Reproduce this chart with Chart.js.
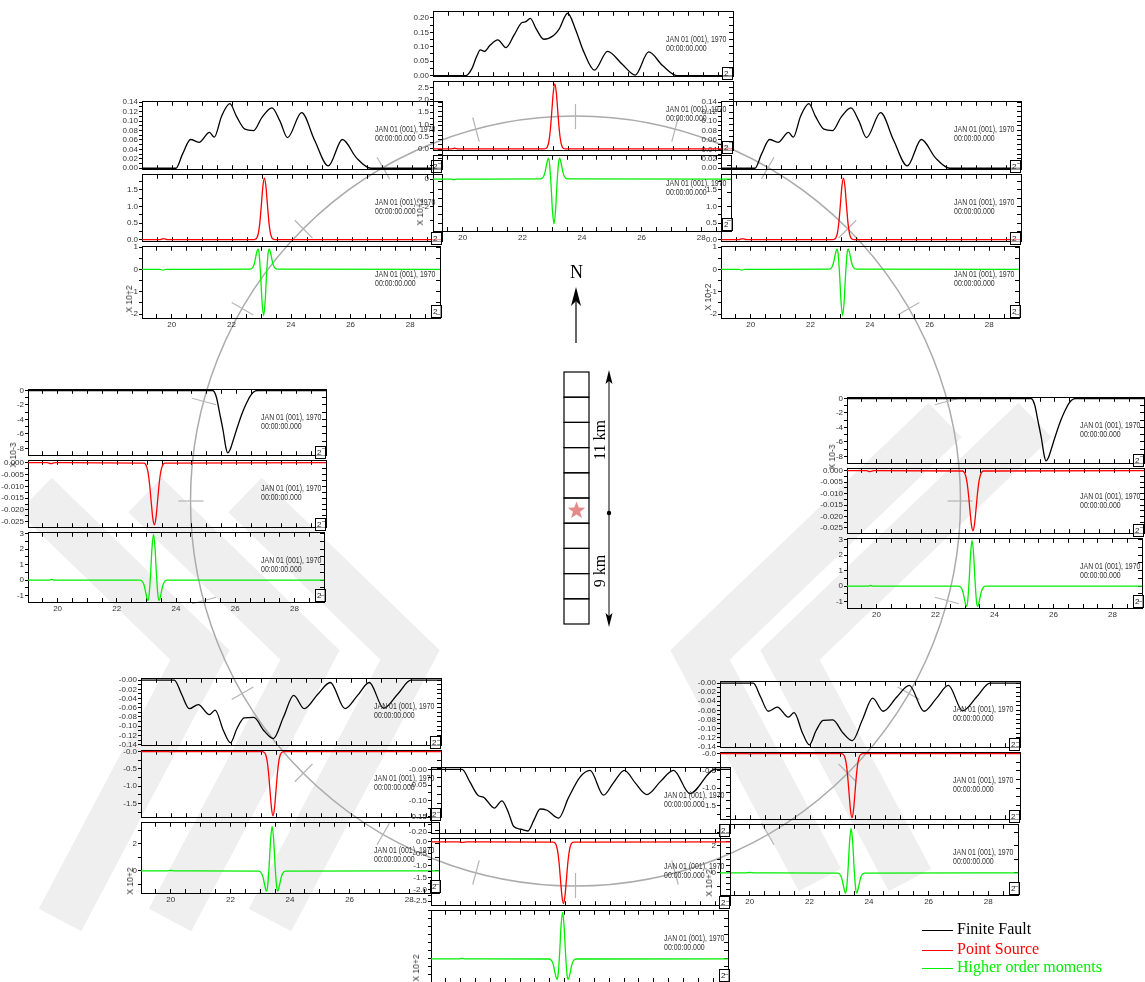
<!DOCTYPE html>
<html>
<head>
<meta charset="utf-8">
<title>Finite fault vs point source synthetics</title>
<script src="https://cdn.jsdelivr.net/npm/chart.js@4.4.1/dist/chart.umd.min.js"></script>
<style>
  body { margin: 0; width: 1145px; height: 982px; overflow: hidden; position: relative; background: #fff; font-family: "Liberation Sans", Arial, sans-serif; }
  canvas { position: absolute; }
  .stamp { position: absolute; font-size: 8.5px; line-height: 8.5px; color: #333; white-space: nowrap; transform: scaleX(0.82); transform-origin: 0 0; }
  .comp { position: absolute; width: 9px; height: 11px; border: 1px solid #000; font-size: 8px; line-height: 11px; color: #222; text-indent: 1px; background: rgba(255,255,255,0.6); }
  .mult { position: absolute; font-size: 8.5px; color: #333; white-space: nowrap; transform: translate(-50%, -50%) rotate(-90deg); }
  .serif { position: absolute; font-family: "Liberation Serif", "Times New Roman", serif; white-space: nowrap; }
  .key { position: absolute; width: 31px; height: 0; }
</style>
</head>
<body>
<script>
// time axis of every trace (s)
const timeMin = 19, timeMax = 29;

// ---- Finite Fault (black) ----
const nFiniteT = [19, 20.1, 20.3, 20.45, 20.58, 20.71, 20.9, 21.16, 21.43, 21.7, 21.97, 22.08, 22.24, 22.45, 22.69, 23.02, 23.2, 23.49, 23.75, 24.02, 24.38, 24.82, 25.3, 25.74, 26.19, 26.65, 27.13, 29];
const nFiniteV = [0, 0, 0.025, 0.065, 0.089, 0.084, 0.105, 0.124, 0.097, 0.14, 0.184, 0.186, 0.198, 0.16, 0.126, 0.139, 0.16, 0.216, 0.16, 0.084, 0.019, 0.084, 0.04, 0.002, 0.082, 0.035, 0, 0];

const nwFiniteT = [19, 20.13, 20.35, 20.62, 20.9, 21.25, 21.41, 21.65, 21.93, 22.15, 22.43, 22.72, 23.0, 23.33, 23.6, 23.85, 24.32, 24.75, 25.21, 25.68, 26.15, 26.63, 29];
const nwFiniteV = [0, 0, 0.03, 0.061, 0.055, 0.076, 0.066, 0.11, 0.137, 0.11, 0.083, 0.08, 0.108, 0.128, 0.1, 0.065, 0.118, 0.06, 0.005, 0.061, 0.022, 0, 0];

const wFiniteT = [19, 25.2, 25.32, 25.43, 25.55, 25.64, 25.7, 25.78, 25.9, 26.0, 26.12, 26.2, 26.35, 26.45, 26.57, 26.7, 29];
const wFiniteV = [0, 0, -0.9, -3.1, -5.6, -7.9, -8.63, -8.2, -6.7, -5.4, -3.9, -3.0, -1.6, -0.8, -0.2, 0, 0];

const swFiniteT = [19, 20.11, 20.35, 20.61, 20.91, 21.28, 21.47, 21.75, 21.98, 22.2, 22.44, 22.76, 23.1, 23.41, 23.75, 24.09, 24.44, 24.9, 25.31, 25.8, 26.22, 26.61, 27.09, 27.56, 28.0, 29];
const swFiniteV = [0, 0, -0.03, -0.062, -0.053, -0.075, -0.065, -0.11, -0.136, -0.105, -0.082, -0.081, -0.11, -0.127, -0.08, -0.033, -0.062, -0.03, -0.005, -0.062, -0.033, -0.005, -0.061, -0.03, 0, 0];

const sFiniteT = [19, 20.04, 20.3, 20.59, 20.75, 21.12, 21.37, 21.6, 21.76, 22.0, 22.24, 22.45, 22.65, 22.88, 23.27, 23.6, 23.99, 24.32, 24.77, 25.1, 25.47, 25.83, 26.22, 26.67, 27.11, 27.66, 28.5, 29];
const sFiniteV = [0, 0, -0.04, -0.084, -0.088, -0.123, -0.1, -0.14, -0.181, -0.19, -0.196, -0.16, -0.126, -0.13, -0.155, -0.09, -0.024, -0.003, -0.082, -0.043, -0.003, -0.043, -0.08, -0.039, -0.003, -0.077, 0, 0];

// ---- Point Source (red) ----
const nPointT = [19, 19.6, 19.72, 19.85, 22.71, 22.76, 22.81, 22.86, 22.91, 22.96, 23.01, 23.06, 23.11, 23.16, 23.21, 23.26, 23.31, 23.36, 23.41, 29];
const nPointV = [0, 0, 0.03, 0, 0.003, 0.018, 0.082, 0.29, 0.76, 1.52, 2.3, 2.64, 2.3, 1.52, 0.76, 0.29, 0.082, 0.018, 0.003, 0];

const nwPointT = [19, 19.6, 19.72, 19.85, 22.73, 22.78, 22.83, 22.88, 22.93, 22.98, 23.03, 23.08, 23.13, 23.18, 23.23, 23.28, 23.33, 23.38, 23.43, 29];
const nwPointV = [0, 0, 0.03, 0, 0.002, 0.013, 0.057, 0.2, 0.53, 1.06, 1.61, 1.85, 1.61, 1.06, 0.53, 0.2, 0.057, 0.013, 0.002, 0];

const wPointT = [19, 19.65, 19.77, 19.9, 22.89, 22.94, 22.99, 23.04, 23.09, 23.14, 23.19, 23.24, 23.29, 23.34, 23.39, 23.44, 23.49, 23.54, 23.59, 29];
const wPointV = [0, 0, -0.0004, 0, -0.00017, -0.0006, -0.002, -0.005, -0.0104, -0.0174, -0.0237, -0.0263, -0.0237, -0.0174, -0.0104, -0.005, -0.002, -0.0006, -0.00017, 0];

const swPointT = [19, 19.85, 20.0, 20.15, 23.05, 23.1, 23.15, 23.2, 23.25, 23.3, 23.35, 23.4, 23.45, 23.5, 23.55, 23.6, 23.65, 23.7, 23.75, 29];
const swPointV = [0, 0, -0.01, 0, -0.004, -0.021, -0.081, -0.25, -0.6, -1.12, -1.63, -1.85, -1.63, -1.12, -0.6, -0.25, -0.081, -0.021, -0.004, 0];

const sPointT = [19, 19.9, 20.05, 20.2, 23.08, 23.13, 23.18, 23.23, 23.28, 23.33, 23.38, 23.43, 23.48, 23.53, 23.58, 23.63, 23.68, 23.73, 23.78, 29];
const sPointV = [0, 0, -0.02, 0, -0.006, -0.029, -0.11, -0.35, -0.84, -1.58, -2.29, -2.6, -2.29, -1.58, -0.84, -0.35, -0.11, -0.029, -0.006, 0];

// ---- Higher order moments (green) ----
const nHigherT = [19, 19.6, 19.7, 19.8, 22.61, 22.71, 22.76, 22.81, 22.87, 22.91, 22.96, 23.01, 23.06, 23.11, 23.16, 23.21, 23.25, 23.31, 23.36, 23.41, 23.51, 29];
const nHigherV = [0, 0, -0.04, 0, 0.01, 0.19, 0.51, 1.04, 1.53, 1.12, -0.38, -2.36, -3.29, -2.36, -0.38, 1.12, 1.53, 1.04, 0.51, 0.19, 0.01, 0];

const nwHigherT = [19, 19.6, 19.7, 19.8, 22.63, 22.73, 22.78, 22.83, 22.89, 22.93, 22.98, 23.03, 23.08, 23.13, 23.18, 23.23, 23.27, 23.33, 23.38, 23.43, 23.53, 29];
const nwHigherV = [0, 0, -0.03, 0, 0.01, 0.12, 0.32, 0.65, 0.9, 0.7, -0.24, -1.48, -2.07, -1.48, -0.24, 0.7, 0.9, 0.65, 0.32, 0.12, 0.01, 0];

const wHigherT = [19, 19.7, 19.8, 19.9, 22.79, 22.89, 22.94, 22.99, 23.05, 23.09, 23.14, 23.19, 23.24, 23.29, 23.34, 23.39, 23.43, 23.49, 23.54, 23.59, 23.69, 29];
const wHigherV = [0, 0, 0.04, 0, -0.01, -0.17, -0.46, -0.93, -1.32, -1.0, 0.34, 2.11, 2.95, 2.11, 0.34, -1.0, -1.32, -0.93, -0.46, -0.17, -0.01, 0];

const swHigherT = [19, 19.85, 20.0, 20.15, 22.95, 23.05, 23.1, 23.15, 23.21, 23.25, 23.3, 23.35, 23.4, 23.45, 23.5, 23.55, 23.59, 23.65, 23.7, 23.75, 23.85, 29];
const swHigherV = [0, 0, 0.03, 0, -0.013, -0.19, -0.52, -1.04, -1.5, -1.12, 0.38, 2.36, 3.3, 2.36, 0.38, -1.12, -1.5, -1.04, -0.52, -0.19, -0.013, 0];

const sHigherT = [19, 19.95, 20.05, 20.15, 22.98, 23.08, 23.13, 23.18, 23.24, 23.28, 23.33, 23.38, 23.43, 23.48, 23.53, 23.58, 23.62, 23.68, 23.73, 23.78, 23.88, 29];
const sHigherV = [0, 0, 0.05, 0, -0.02, -0.34, -0.92, -1.85, -2.58, -1.99, 0.67, 4.2, 5.87, 4.2, 0.67, -1.99, -2.58, -1.85, -0.92, -0.34, -0.02, 0];

// y axis ranges / label steps per station
const nAxes  = [{ min: -0.002, max: 0.221, step: 0.05, dec: 2 }, { min: -0.05, max: 2.73, step: 0.5, dec: 1 }, { min: -3.8, max: 1.7, step: 2, dec: 0 }];
const nwAxes = [{ min: -0.002, max: 0.141, step: 0.02, dec: 2 }, { min: -0.045, max: 1.95, step: 0.5, dec: 1 }, { min: -2.17, max: 1.01, step: 1, dec: 0 }];
const wAxes  = [{ min: -8.95, max: 0.1, step: 2, dec: 0 }, { min: -0.0273, max: 0.0008, step: 0.005, dec: 3 }, { min: -1.42, max: 3.06, step: 1, dec: 0 }];
const swAxes = [{ min: -0.1413, max: 0.003, step: 0.02, dec: 2, zero: '-0.00' }, { min: -1.89, max: 0.02, step: 0.5, dec: 1, zero: '-0.0' }, { min: -1.64, max: 3.57, step: 2, dec: 0 }];
const sAxes  = [{ min: -0.203, max: 0.005, step: 0.05, dec: 2, zero: '-0.00' }, { min: -2.67, max: 0.13, step: 0.5, dec: 1 }, { min: -2.93, max: 6.07, step: 2, dec: 0 }];

const legendLabels = ['Finite Fault', 'Point Source', 'Higher order moments'];
const traceColors = ['#000000', '#ff0000', '#00ee00'];

// NE reads the same as NW, E as W, SE as SW
const panels = [
  { left: 142, top: [100, 173, 245, 318], width: 300, axes: nwAxes, series: [[nwFiniteT, nwFiniteV], [nwPointT, nwPointV], [nwHigherT, nwHigherV]], mult: ['X 10+2', 129, 299] },
  { left: 721, top: [100, 173, 245, 318], width: 300, axes: nwAxes, series: [[nwFiniteT, nwFiniteV], [nwPointT, nwPointV], [nwHigherT, nwHigherV]], mult: ['X 10+2', 708, 297] },
  { left: 433, top: [10, 80, 154, 231],   width: 300, axes: nAxes,  series: [[nFiniteT, nFiniteV], [nPointT, nPointV], [nHigherT, nHigherV]], mult: ['X 10+2', 420, 212] },
  { left: 28,  top: [388, 459, 531, 602], width: 298, axes: wAxes,  series: [[wFiniteT, wFiniteV], [wPointT, wPointV], [wHigherT, wHigherV]], mult: ['X 10-3', 13, 455] },
  { left: 847, top: [396, 467, 537, 608], width: 297, axes: wAxes,  series: [[wFiniteT, wFiniteV], [wPointT, wPointV], [wHigherT, wHigherV]], mult: ['X 10-3', 832, 457] },
  { left: 141, top: [677, 749, 821, 893], width: 300, axes: swAxes, series: [[swFiniteT, swFiniteV], [swPointT, swPointV], [swHigherT, swHigherV]], mult: ['X 10+2', 130, 881] },
  { left: 720, top: [680, 751, 823, 895], width: 300, axes: swAxes, series: [[swFiniteT, swFiniteV], [swPointT, swPointV], [swHigherT, swHigherV]], mult: ['X 10+2', 709, 883] },
  { left: 431, top: [766, 837, 909, 982], width: 299, axes: sAxes,  series: [[sFiniteT, sFiniteV], [sPointT, sPointV], [sHigherT, sHigherV]], mult: ['X 10+2', 416, 968] }
];

// map decoration (page pixels)
const ring = { x: 575.5, y: 501, r: 385 };
const column = { x: 564, y: 372, w: 25, cell: 25.2, cells: 10, star: 5 };
// faint background watermark: chevron tips (x), all on one row
const watermark = { y: 655, right: [200, 310, 410], left: [700, 790], color: '#efefef', width: 48 };

function isStep(v, step) {
  const k = v / step;
  return Math.abs(k - Math.round(k)) < 1e-6;
}

function yLabel(v, ax) {
  if (!isStep(v, ax.step)) return '';
  const val = Math.round(v / ax.step) * ax.step;
  if (Math.abs(val) < ax.step / 1000) return ax.zero || (0).toFixed(ax.dec);
  return val.toFixed(ax.dec);
}

function addDiv(cls, text, css) {
  const d = document.createElement('div');
  d.className = cls;
  d.textContent = text;
  Object.assign(d.style, css);
  document.body.appendChild(d);
  return d;
}

const mapPlugin = {
  id: 'mapPlugin',
  beforeDraw(chart) {
    const ctx = chart.ctx;
    const px = v => chart.scales.x.getPixelForValue(v);
    const py = v => chart.scales.y.getPixelForValue(v);
    const wy = watermark.y;
    ctx.save();
    ctx.strokeStyle = watermark.color;
    ctx.lineWidth = watermark.width;
    ctx.lineJoin = 'miter';
    watermark.right.forEach(tx => {
      ctx.beginPath();
      ctx.moveTo(px(tx - 165), py(wy - 160));
      ctx.lineTo(px(tx), py(wy));
      ctx.lineTo(px(tx - 140), py(wy + 265));
      ctx.stroke();
    });
    watermark.left.forEach(tx => {
      ctx.beginPath();
      ctx.moveTo(px(tx + 245), py(wy - 235));
      ctx.lineTo(px(tx), py(wy));
      ctx.lineTo(px(tx + 120), py(wy + 225));
      ctx.stroke();
    });
    ctx.restore();
  },
  afterDraw(chart) {
    const ctx = chart.ctx;
    const px = v => chart.scales.x.getPixelForValue(v);
    const py = v => chart.scales.y.getPixelForValue(v);
    ctx.save();
    // distance ring and azimuth marks
    ctx.strokeStyle = '#ababab';
    ctx.lineWidth = 1.5;
    ctx.beginPath();
    ctx.arc(px(ring.x), py(ring.y), ring.r, 0, Math.PI * 2);
    ctx.stroke();
    ctx.lineWidth = 1.2;
    ctx.strokeStyle = '#b5b5b5';
    for (let a = 0; a < 360; a += 15) {
      const s = Math.sin(a * Math.PI / 180), c = -Math.cos(a * Math.PI / 180);
      ctx.beginPath();
      ctx.moveTo(px(ring.x + s * (ring.r - 13)), py(ring.y + c * (ring.r - 13)));
      ctx.lineTo(px(ring.x + s * (ring.r + 12)), py(ring.y + c * (ring.r + 12)));
      ctx.stroke();
    }
    // fault cells
    ctx.strokeStyle = '#000';
    ctx.lineWidth = 1.2;
    for (let i = 0; i < column.cells; i++) {
      ctx.strokeRect(px(column.x), py(column.y + i * column.cell), column.w, column.cell);
    }
    // hypocentre star
    const sx = px(column.x + column.w / 2), sy = py(column.y + (column.star + 0.5) * column.cell);
    ctx.fillStyle = '#e48a8a';
    ctx.beginPath();
    for (let k = 0; k < 10; k++) {
      const rr = k % 2 ? 3.8 : 9.2, ang = -Math.PI / 2 + k * Math.PI / 5;
      ctx.lineTo(sx + rr * Math.cos(ang), sy + rr * Math.sin(ang));
    }
    ctx.closePath();
    ctx.fill();
    // north arrow
    ctx.fillStyle = '#000';
    ctx.beginPath();
    ctx.moveTo(px(576), py(343)); ctx.lineTo(px(576), py(298));
    ctx.stroke();
    ctx.beginPath();
    ctx.moveTo(px(576), py(287)); ctx.lineTo(px(571), py(306)); ctx.lineTo(px(576), py(301)); ctx.lineTo(px(581), py(306));
    ctx.closePath(); ctx.fill();
    // length arrow
    ctx.lineWidth = 1;
    ctx.beginPath();
    ctx.moveTo(px(609), py(380)); ctx.lineTo(px(609), py(617));
    ctx.stroke();
    ctx.beginPath();
    ctx.moveTo(px(609), py(370)); ctx.lineTo(px(605.5), py(384)); ctx.lineTo(px(609), py(381)); ctx.lineTo(px(612.5), py(384));
    ctx.closePath(); ctx.fill();
    ctx.beginPath();
    ctx.moveTo(px(609), py(627)); ctx.lineTo(px(605.5), py(613)); ctx.lineTo(px(609), py(616)); ctx.lineTo(px(612.5), py(613));
    ctx.closePath(); ctx.fill();
    ctx.beginPath();
    ctx.arc(px(609), py(513), 2.2, 0, Math.PI * 2);
    ctx.fill();
    ctx.restore();
  }
};

// background map layer
const ov = document.createElement('canvas');
ov.width = 1145; ov.height = 982;
ov.style.left = '0px'; ov.style.top = '0px';
document.body.appendChild(ov);
new Chart(ov, {
  type: 'scatter',
  data: { datasets: [] },
  options: {
    responsive: false, animation: false, events: [],
    layout: { padding: 0 },
    plugins: { legend: { display: false }, tooltip: { enabled: false } },
    scales: {
      x: { type: 'linear', min: 0, max: 1145, display: false },
      y: { type: 'linear', min: 0, max: 982, reverse: true, display: false }
    }
  },
  plugins: [mapPlugin]
});

const tickFont = { family: 'Liberation Sans', size: 8 };
const frame = { display: true, color: '#000', width: 1 };
const inward = { drawOnChartArea: false, drawTicks: true, tickLength: -4, tickColor: '#000', tickWidth: 1 };

function addTrace(p, row) {
  const ax = p.axes[row];
  const ts = p.series[row][0], vs = p.series[row][1];
  const top = p.top[row], h = p.top[row + 1] - top;
  const last = row === 2;
  const L = 42, R = 4, T = 4, B = last ? 14 : 2;
  const cv = document.createElement('canvas');
  cv.width = L + p.width + R;
  cv.height = T + h + B;
  cv.style.left = (p.left - L) + 'px';
  cv.style.top = (top - T) + 'px';
  document.body.appendChild(cv);
  new Chart(cv, {
    type: 'line',
    data: {
      datasets: [{
        data: ts.map((t, i) => ({ x: t, y: vs[i] })),
        borderColor: traceColors[row], borderWidth: 1.3, pointRadius: 0,
        cubicInterpolationMode: 'monotone', fill: false
      }]
    },
    options: {
      responsive: false, animation: false, events: [],
      layout: { padding: { left: 0, right: R, top: T, bottom: 0 } },
      plugins: { legend: { display: false }, tooltip: { enabled: false } },
      scales: {
        x: {
          type: 'linear', position: 'bottom', min: timeMin, max: timeMax,
          border: frame, grid: inward,
          afterFit: s => { s.height = B; },
          ticks: {
            display: last, stepSize: 0.5, maxTicksLimit: 1000, autoSkip: false, maxRotation: 0, includeBounds: false,
            padding: 6, color: '#333', font: tickFont,
            callback: v => (isStep(v, 2) && v > timeMin && v < timeMax) ? String(Math.round(v)) : ''
          }
        },
        xTop: {
          type: 'linear', position: 'top', min: timeMin, max: timeMax,
          border: frame, grid: inward,
          afterFit: s => { s.height = 0; },
          ticks: { display: false, stepSize: 0.5, maxTicksLimit: 1000, includeBounds: false }
        },
        y: {
          type: 'linear', position: 'left', min: ax.min, max: ax.max,
          border: frame,
          grid: { drawOnChartArea: false, drawTicks: true, tickLength: 3, tickColor: '#000' },
          afterFit: s => { s.width = L; },
          ticks: {
            stepSize: ax.step / 2, maxTicksLimit: 1000, autoSkip: false, includeBounds: false,
            padding: 1, color: '#333', font: tickFont,
            callback: v => yLabel(v, ax)
          }
        },
        yRight: {
          type: 'linear', position: 'right', min: ax.min, max: ax.max,
          border: frame, grid: inward,
          afterFit: s => { s.width = 0; },
          ticks: { display: false, stepSize: ax.step / 2, maxTicksLimit: 1000, includeBounds: false }
        }
      }
    }
  });
  // date stamp and component box
  const st = addDiv('stamp', '', { left: (p.left + 233) + 'px', top: (top + 25) + 'px' });
  st.innerHTML = 'JAN 01 (001), 1970<br>00:00:00.000';
  addDiv('comp', '2', { left: (p.left + p.width - 11) + 'px', top: (p.top[row + 1] - 13) + 'px' });
}

panels.forEach(p => {
  for (let r = 0; r < 3; r++) addTrace(p, r);
  addDiv('mult', p.mult[0], { left: p.mult[1] + 'px', top: p.mult[2] + 'px' });
});

// map labels
addDiv('serif', 'N', { left: '570px', top: '262px', fontSize: '18px' });
addDiv('serif', '11 km', { left: '600px', top: '440px', fontSize: '16px', transform: 'translate(-50%, -50%) rotate(-90deg)' });
addDiv('serif', '9 km', { left: '600px', top: '571px', fontSize: '16px', transform: 'translate(-50%, -50%) rotate(-90deg)' });

// legend
legendLabels.forEach((name, i) => {
  const y = [930, 950, 968][i];
  addDiv('key', '', { left: '922px', top: y + 'px', borderTop: '1px solid ' + traceColors[i] });
  addDiv('serif', name, { left: '957px', top: (y - 10) + 'px', fontSize: '16px', color: traceColors[i] });
});
</script>
</body>
</html>
